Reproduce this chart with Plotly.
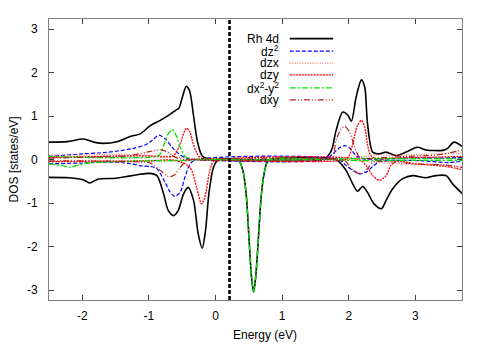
import plotly.graph_objects as go

# ---------------- data ----------------
FERMI = 0.21

X_TICKS = [-2, -1, 0, 1, 2, 3]
Y_TICKS = [-3, -2, -1, 0, 1, 2, 3]

# Rh 4d total
RH_UP_E = [-2.5, -2.23, -1.98, -1.83, -1.68, -1.48, -1.28, -1.13, -0.98, -0.83, -0.7, -0.6, -0.55, -0.5,
           -0.44, -0.39, -0.33, -0.27, -0.2, -0.1, 0.0, 1.55, 1.64, 1.74, 1.81, 1.91, 1.99, 2.04, 2.11,
           2.19, 2.24, 2.28, 2.36, 2.46, 2.56, 2.71, 2.86, 3.03, 3.16, 3.41, 3.48, 3.58, 3.7]
RH_UP = [0.40, 0.41, 0.47, 0.40, 0.37, 0.41, 0.53, 0.59, 0.78, 0.90, 1.02, 1.13, 1.18, 1.42,
         1.68, 1.58, 1.00, 0.40, 0.08, 0.01, 0.0, 0.0, 0.02, 0.21, 0.67, 1.09, 1.01, 0.88, 1.43,
         1.83, 1.66, 0.85, 0.17, 0.13, 0.17, 0.09, 0.17, 0.28, 0.22, 0.21, 0.25, 0.40, 0.30]
RH_DN_E = [-2.5, -2.2, -1.98, -1.89, -1.76, -1.5, -1.26, -1.0, -0.88, -0.78, -0.71, -0.63, -0.56, -0.48,
           -0.41, -0.33, -0.26, -0.20, -0.15, -0.10, -0.03, 0.04, 0.30, 0.35, 0.41, 0.46, 0.50, 0.54,
           0.57, 0.60, 0.64, 0.68, 0.72, 0.77, 0.82, 1.80, 1.86, 1.96, 2.06, 2.13, 2.21, 2.28, 2.38,
           2.49, 2.56, 2.66, 2.81, 2.96, 3.16, 3.31, 3.46, 3.56, 3.70]
RH_DN = [-0.41, -0.42, -0.47, -0.54, -0.45, -0.43, -0.37, -0.32, -0.37, -0.79, -1.17, -1.29, -1.17, -0.79,
         -0.64, -0.94, -1.71, -2.04, -1.63, -0.79, -0.18, 0.0, 0.0, -0.03, -0.25, -0.79, -1.75, -2.7,
         -3.05, -2.75, -1.9, -0.95, -0.4, -0.08, 0.0, 0.0, -0.06, -0.25, -0.56, -0.73, -0.62, -0.75, -1.02,
         -1.13, -0.94, -0.67, -0.44, -0.37, -0.42, -0.37, -0.37, -0.56, -0.78]

# dz2
DZ2_UP_E = [-2.5, -2.0, -1.75, -1.5, -1.25, -1.05, -0.95, -0.85, -0.75, -0.65, -0.55, -0.45, -0.3,
            1.65, 1.76, 1.86, 1.94, 2.01, 2.11, 2.2, 2.5, 3.0, 3.4, 3.7]
DZ2_UP = [0.07, 0.13, 0.15, 0.19, 0.25, 0.34, 0.44, 0.56, 0.47, 0.28, 0.13, 0.04, 0.0,
          0.0, 0.13, 0.27, 0.32, 0.27, 0.09, 0.02, 0.01, 0.04, 0.03, 0.05]
DZ2_DN_E = [-2.5, -2.0, -1.5, -1.26, -1.1, -0.98, -0.88, -0.76, -0.68, -0.61, -0.53, -0.46, -0.38, -0.28,
            1.85, 1.96, 2.06, 2.16, 2.26, 2.36, 2.46, 2.7, 3.1, 3.5, 3.7]
DZ2_DN = [-0.10, -0.08, -0.06, -0.10, -0.15, -0.16, -0.21, -0.52, -0.75, -0.85, -0.75, -0.41, -0.10, 0.0,
          0.0, -0.14, -0.25, -0.33, -0.29, -0.16, -0.05, -0.02, -0.03, -0.07, -0.04]

# dzx
DZX_UP_E = [-2.5, -2.0, -1.5, -1.0, -0.6, -0.3, 0.0, 1.9, 2.1, 2.4, 2.8, 3.2, 3.7]
DZX_UP = [0.10, 0.10, 0.12, 0.10, 0.06, 0.02, 0.0, 0.0, 0.04, 0.10, 0.10, 0.12, 0.15]
DZX_DN_E = [-2.5, -1.5, -1.0, -0.5, -0.2, 2.0, 2.3, 2.8, 3.3, 3.7]
DZX_DN = [-0.05, -0.06, -0.05, -0.03, 0.0, 0.0, -0.05, -0.10, -0.12, -0.18]

# dzy
DZY_UP_E = [-2.5, -2.0, -1.5, -1.0, -0.75, -0.63, -0.53, -0.46, -0.43, -0.385, -0.335, -0.26, -0.18, -0.1,
            1.95, 2.01, 2.06, 2.13, 2.19, 2.24, 2.28, 2.33, 2.42, 2.8, 3.2, 3.7]
DZY_UP = [0.05, 0.06, 0.08, 0.08, 0.06, 0.09, 0.36, 0.67, 0.72, 0.63, 0.36, 0.09, 0.01, 0.0,
          0.0, 0.10, 0.36, 0.78, 0.90, 0.74, 0.36, 0.09, 0.02, 0.04, 0.05, 0.07]
DZY_DN_E = [-2.5, -2.0, -1.5, -1.0, -0.6, -0.385, -0.285, -0.21, -0.16, -0.096, -0.036, 0.05,
            2.15, 2.26, 2.36, 2.46, 2.56, 2.63, 2.72, 3.0, 3.4, 3.6, 3.7]
DZY_DN = [-0.05, -0.04, -0.04, -0.03, -0.02, -0.18, -0.64, -1.02, -0.87, -0.33, -0.05, 0.0,
          0.0, -0.14, -0.37, -0.48, -0.37, -0.14, -0.04, -0.10, -0.15, -0.20, -0.24]

# dx2-y2
DX2_UP_E = [-2.5, -2.0, -1.5, -1.0, -0.85, -0.78, -0.71, -0.65, -0.59, -0.53, -0.46, -0.38, -0.3,
            1.7, 2.0, 3.0, 3.7]
DX2_UP = [0.07, 0.05, 0.04, 0.05, 0.09, 0.32, 0.59, 0.69, 0.55, 0.28, 0.08, 0.01, 0.0,
          0.0, 0.02, 0.02, 0.02]
DX2_DN_E = [-2.5, -2.3, -2.18, -2.05, -1.9, -1.5, -1.0, -0.5, -0.2, 0.30, 0.35, 0.41, 0.46, 0.50,
            0.54, 0.57, 0.60, 0.64, 0.68, 0.72, 0.77, 0.82, 1.8, 2.0, 3.0, 3.7]
DX2_DN = [-0.10, -0.14, -0.18, -0.12, -0.08, -0.05, -0.03, -0.02, 0.0, 0.0, -0.03, -0.25, -0.79, -1.75,
          -2.7, -3.05, -2.75, -1.9, -0.95, -0.4, -0.08, 0.0, 0.0, -0.02, -0.02, -0.02]

# dxy
DXY_UP_E = [-2.5, -2.0, -1.5, -1.28, -1.03, -0.83, -0.72, -0.6, -0.45, 1.7, 1.76, 1.81, 1.89, 1.94,
            2.01, 2.09, 2.16, 2.26, 2.6, 3.0, 3.3, 3.5, 3.7]
DXY_UP = [0.03, 0.05, 0.07, 0.09, 0.17, 0.22, 0.17, 0.05, 0.0, 0.0, 0.05, 0.44, 0.71, 0.76,
          0.63, 0.28, 0.05, 0.02, 0.05, 0.08, 0.10, 0.15, 0.22]
DXY_DN_E = [-2.5, -1.5, -1.05, -0.98, -0.83, -0.71, -0.63, -0.53, -0.43, -0.35, 1.9, 1.96, 2.01, 2.11,
            2.19, 2.28, 2.38, 2.6, 3.0, 3.4, 3.7]
DXY_DN = [-0.03, -0.04, -0.06, -0.08, -0.25, -0.39, -0.37, -0.18, -0.02, 0.0, 0.0, -0.05, -0.16, -0.29,
          -0.33, -0.21, -0.05, -0.05, -0.10, -0.12, -0.18]

LABELS = ["Rh 4d", "dz<sup>2</sup>", "dzx", "dzy", "dx<sup>2</sup>-y<sup>2</sup>", "dxy"]

# ---------------- styles ----------------
STYLES = [
    dict(color="black", dash="solid", width=1.6),
    dict(color="#0000ff", dash="4px,2px", width=1.2),
    dict(color="#ff7070", dash="1px,1.5px", width=1.2),
    dict(color="#ff0000", dash="2px,1px", width=1.3),
    dict(color="#00e000", dash="6px,2px,2px,2px", width=1.3),
    dict(color="#b02020", dash="6px,2px,1px,2px,1px,2px", width=1.2),
]

SERIES = [
    (RH_UP_E, RH_UP, RH_DN_E, RH_DN),
    (DZ2_UP_E, DZ2_UP, DZ2_DN_E, DZ2_DN),
    (DZX_UP_E, DZX_UP, DZX_DN_E, DZX_DN),
    (DZY_UP_E, DZY_UP, DZY_DN_E, DZY_DN),
    (DX2_UP_E, DX2_UP, DX2_DN_E, DX2_DN),
    (DXY_UP_E, DXY_UP, DXY_DN_E, DXY_DN),
]

fig = go.Figure()
for (ue, uv, de, dv), st, name in zip(SERIES, STYLES, LABELS):
    for xs, ys in ((ue, uv), (de, dv)):
        fig.add_trace(go.Scatter(
            x=xs, y=ys, mode="lines", name=name, showlegend=False,
            line=dict(color=st["color"], dash=st["dash"], width=st["width"],
                      shape="spline", smoothing=0.8),
            hoverinfo="skip"))

# Fermi level marker
fig.add_shape(type="line", xref="x", yref="paper", x0=FERMI, x1=FERMI, y0=0, y1=1,
              line=dict(color="black", width=2.6, dash="4px,2px"))

# manual legend (text right-aligned, sample line on the right), paper coordinates
LEG_TEXT_X = 0.562
LEG_LINE_X0 = 0.583
LEG_LINE_X1 = 0.688
LEG_ROWS_Y = [0.930, 0.886, 0.843, 0.801, 0.755, 0.712]
for name, st, yy in zip(LABELS, STYLES, LEG_ROWS_Y):
    fig.add_annotation(xref="paper", yref="paper", x=LEG_TEXT_X, y=yy, text=name,
                       showarrow=False, xanchor="right", yanchor="middle",
                       font=dict(size=12, color="black"))
    fig.add_shape(type="line", xref="paper", yref="paper", x0=LEG_LINE_X0, x1=LEG_LINE_X1,
                  y0=yy, y1=yy, line=dict(color=st["color"], dash=st["dash"], width=st["width"]))

# axis titles
fig.add_annotation(xref="paper", yref="paper", x=0.523, y=-0.125, text="Energy (eV)",
                   showarrow=False, xanchor="center", yanchor="middle", font=dict(size=12))
fig.add_annotation(xref="paper", yref="paper", x=-0.085, y=0.5, text="DOS [states/eV]",
                   showarrow=False, xanchor="center", yanchor="middle", textangle=-90,
                   font=dict(size=12))

axis_common = dict(showgrid=False, zeroline=False, ticks="inside", ticklen=5, tickwidth=1,
                   tickcolor="#404040", showline=True, linecolor="#808080", linewidth=1,
                   mirror="ticks", tickfont=dict(size=12, color="black"))

# the page body adds an 8 px offset, so the figure is 8 px smaller and the margins compensate
fig.update_layout(
    width=483, height=343,
    margin=dict(l=41, r=29, t=11, b=51),
    plot_bgcolor="white", paper_bgcolor="white",
    showlegend=False,
    font=dict(family="Liberation Sans, Arial, Helvetica, sans-serif", size=12, color="black"),
    xaxis=dict(range=[-2.5, 3.7], tickvals=X_TICKS, ticktext=[str(t) for t in X_TICKS],
               ticklabelstandoff=5, **axis_common),
    yaxis=dict(range=[-3.23, 3.23], tickvals=Y_TICKS, ticktext=[str(t) for t in Y_TICKS],
               ticklabelstandoff=8, **axis_common),
)

fig.write_html("out.html")
